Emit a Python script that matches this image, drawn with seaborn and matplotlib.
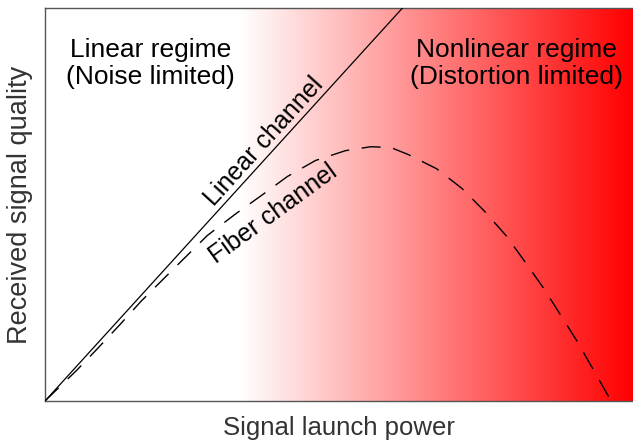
import numpy as np
import matplotlib
matplotlib.use("Agg")
import matplotlib.pyplot as plt
import seaborn as sns

# ---- data (arbitrary units, 0-100 on both axes) ----
linear_x = [0.0, 60.8]
linear_y = [0.0, 100.0]

fiber_x = [0.0, 5.45, 9.03, 12.78, 16.35, 20.44, 23.0, 27.6, 32.5, 37.0, 41.2,
           46.0, 51.1, 55.4, 58.8, 61.8, 66.6, 70.9, 74.8, 78.4, 81.6, 84.7,
           87.6, 90.5, 93.2, 95.6, 96.3]
fiber_y = [0.0, 7.9, 13.5, 19.5, 25.4, 31.5, 35.3, 42.1, 47.7, 52.5, 57.1,
           61.2, 63.7, 64.7, 64.5, 62.7, 59.1, 54.1, 48.2, 42.1, 35.5, 28.9,
           22.1, 15.2, 8.1, 1.8, 0.0]

gradient_start = 33.2   # where the white -> red shading begins
gradient_end = 100.0

x_label = "Signal launch power"
y_label = "Received signal quality"
left_text = "Linear regime\n(Noise limited)"
right_text = "Nonlinear regime\n(Distortion limited)"
linear_label = "Linear channel"
fiber_label = "Fiber channel"

# ---- style ----
sns.set_theme(style="white")
plt.rcParams["font.family"] = ["Liberation Sans", "DejaVu Sans"]

fig = plt.figure(figsize=(6.33, 4.42), dpi=100)
ax = fig.add_axes([45 / 633, 41 / 442, 588 / 633, 393 / 442])

# background gradient
xs = np.linspace(0, 100, 1000)
t = np.clip((xs - gradient_start) / (gradient_end - gradient_start), 0, 1)
rgb = np.stack([np.ones_like(t), 1 - t, 1 - t], axis=-1)[None, :, :]
ax.imshow(rgb, extent=[0, 100, 0, 100], aspect="auto", origin="lower",
          zorder=0, interpolation="bilinear")

sns.lineplot(x=linear_x, y=linear_y, ax=ax, color="black", lw=0.9, zorder=3)
sns.lineplot(x=fiber_x, y=fiber_y, ax=ax, color="black", lw=1.0, zorder=3,
             linestyle=(0, (13.7, 9.1)))

ax.set_xlim(0, 100)
ax.set_ylim(0, 100)
ax.set_xticks([])
ax.set_yticks([])

ax.set_xlabel(x_label, fontsize=18.5, color="#333333", labelpad=10.5)
ax.set_ylabel(y_label, fontsize=19.5, color="#333333", labelpad=8.5)

for side in ["left", "bottom", "top"]:
    ax.spines[side].set_color("#555555")
    ax.spines[side].set_linewidth(1.0)
ax.spines["right"].set_visible(False)

ax.text(17.9, 85.8, left_text, ha="center", va="center", fontsize=19,
        linespacing=1.15, color="black")
ax.text(80.2, 85.8, right_text, ha="center", va="center", fontsize=19,
        linespacing=1.15, color="black")

ax.text(37.3, 66.0, linear_label, ha="center", va="center", fontsize=18,
        rotation=47.8, rotation_mode="anchor", color="black")
ax.text(38.8, 47.7, fiber_label, ha="center", va="center", fontsize=18,
        rotation=36, rotation_mode="anchor", color="black")

fig.savefig("out.png", dpi=100)
